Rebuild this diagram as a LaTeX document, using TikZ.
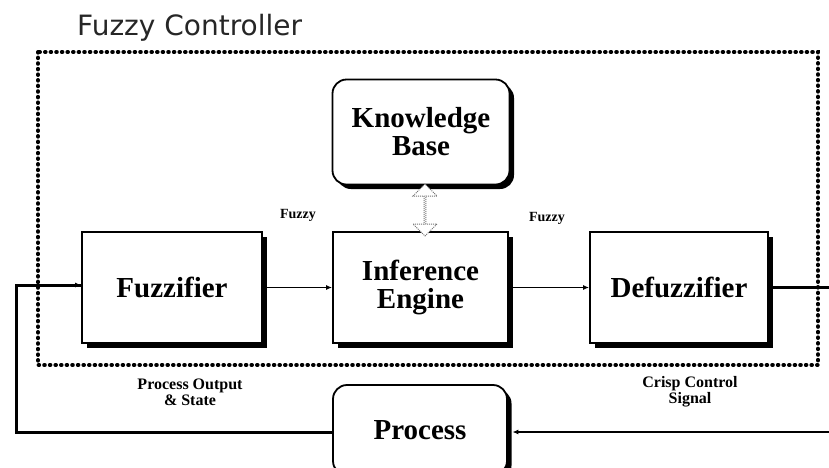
\documentclass[tikz,border=0pt]{standalone}
\usepackage{fontspec}
\setmainfont{Liberation Serif}
\newfontfamily\titlefont{DejaVu Sans}
\usetikzlibrary{shadows,shapes.arrows,arrows.meta}
\tikzset{
  blockbox/.style={draw=black, line width=1.8pt, fill=white,
    drop shadow={shadow xshift=4.5pt, shadow yshift=-4.5pt, fill=black, opacity=1},
    font=\fontsize{29}{31}\selectfont\bfseries, align=center, inner sep=0pt},
  roundbox/.style={blockbox, rounded corners=14pt},
  smalllab/.style={font=\fontsize{16}{17}\selectfont\bfseries, align=center, inner sep=0pt},
  fuzzylab/.style={font=\fontsize{14}{15}\selectfont\bfseries, inner sep=0pt},
  thinline/.style={line width=1.4pt},
  thickline/.style={line width=3pt},
  tip/.style={-{Latex[length=6pt,width=5pt]}},
  dotframe/.style={line width=4pt, line cap=round, dash pattern=on 0.6pt off 5pt},
}
\begin{document}
\begin{tikzpicture}[x=1pt,y=-1pt]
\useasboundingbox (0,0) rectangle (829,467);
% title
\node[anchor=base west, inner sep=0pt, font=\titlefont\fontsize{28}{30}\selectfont, text=black!85] (title) at (77,35) {Fuzzy Controller};
% dotted frame
\draw[dotframe] (38,52) rectangle (818,365);
% blocks
\node[roundbox, minimum width=177pt, minimum height=105pt] (kb) at (421,132) {Knowledge\\[-3pt]Base};
\node[blockbox, minimum width=180pt, minimum height=111pt] (fz) at (172,287.5) {Fuzzifier};
\node[blockbox, minimum width=175pt, minimum height=111pt] (ie) at (420.5,287.5) {Inference\\[-3pt]Engine};
\node[blockbox, minimum width=178pt, minimum height=111pt] (dz) at (679,287.5) {Defuzzifier};
\node[roundbox, minimum width=174pt, minimum height=90pt] (pr) at (420,430) {Process};
% double arrow between knowledge base and inference engine
\node[double arrow, rotate=90, draw=black!55, densely dotted, line width=1pt, fill=white,
  minimum height=52pt, minimum width=24pt, double arrow head extend=6pt, inner sep=0pt] (kbie) at (425,210) {};
% labels
\node[fuzzylab] (f1) at (298,215) {Fuzzy};
\node[fuzzylab] (f2) at (547,218) {Fuzzy};
\node[smalllab] (pos) at (190,392) {Process Output\\[-1pt]\& State};
\node[smalllab] (ccs) at (690,392) {Crisp Control\\[-1pt]Signal};
% connectors
\coordinate (outR) at (829,287.5);
\coordinate (inR) at (829,432);
\coordinate (fbB) at (16,432);
\coordinate (fbT) at (16,285);
\draw[thinline, tip] ([xshift=4.5pt]fz.east) -- (ie.west);
\draw[thinline, tip] ([xshift=4.5pt]ie.east) -- (dz.west);
\draw[thickline] ([xshift=4.5pt]dz.east) -- (outR);
\draw[thinline, tip] (inR) -- ([xshift=4.5pt]pr.east |- inR);
\draw[thickline] (pr.west |- fbB) -- (fbB) -- (fbT) -- (fbT -| fz.west);
\draw[thinline, tip] (fbT) -- (fbT -| fz.west);
\end{tikzpicture}
\end{document}
